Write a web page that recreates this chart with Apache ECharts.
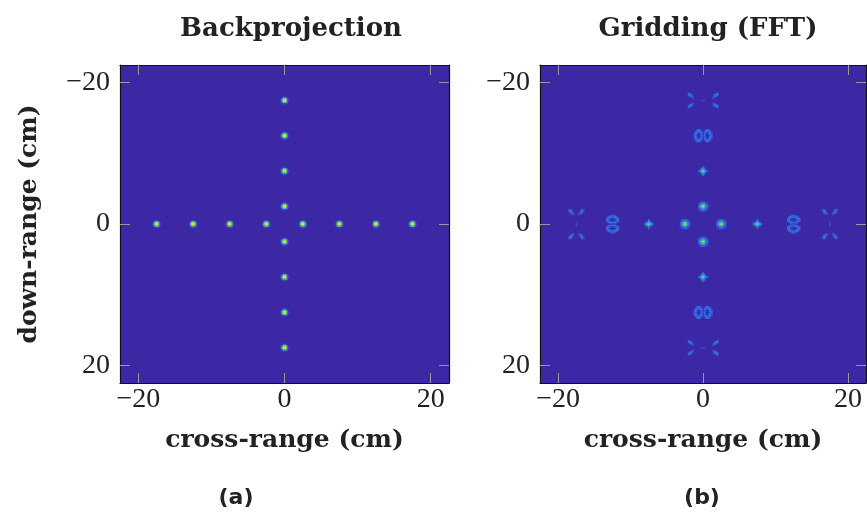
<!DOCTYPE html>
<html>
<head>
<meta charset="utf-8">
<script src="https://cdn.jsdelivr.net/npm/echarts@6/dist/echarts.min.js"></script>
<style>
  html, body { margin: 0; padding: 0; background: #fff; }
  #main { width: 867px; height: 521px; }
</style>
</head>
<body>
<div id="main"></div>
<script>
// target positions (cm), same on both axes
var targets = [-17.5, -12.5, -7.5, -2.5, 2.5, 7.5, 12.5, 17.5];
var tickValues = [-20, 0, 20];
var axisRange = [-22.5, 22.5];

// pixel patterns, digit = intensity / 9
var kernels = {
  bp: [
    '001100',
    '036630',
    '169961',
    '169961',
    '036630',
    '001100'
  ],
  ring: [
    '0122210',
    '1234321',
    '2356532',
    '2469642',
    '2356532',
    '1234321',
    '0122210'
  ],
  cross: [
    '0002000',
    '0014100',
    '0245420',
    '2457542',
    '0245420',
    '0014100',
    '0002000'
  ],
  split: [
    '001222100',
    '023323320',
    '232101232',
    '320000023',
    '232101232',
    '013232310',
    '000010000',
    '013232310',
    '232101232',
    '320000023',
    '232101232',
    '023323320',
    '001222100'
  ],
  far: [
    '23000000032',
    '13200000231',
    '02310001320',
    '00120002100',
    '00000000000',
    '00000000000',
    '00000000000',
    '00000000000',
    '00000000000',
    '00000100000',
    '00000100000',
    '00000100000',
    '00000000000',
    '00000000000',
    '00000000000',
    '00000000000',
    '00000000000',
    '00120002100',
    '02310001320',
    '13200000231',
    '23000000032'
  ]
};
// which pattern the gridding image shows at each |offset|
var fftOffsets = [2.5, 7.5, 12.5, 17.5];
var fftKernels = ['ring', 'cross', 'split', 'far'];

var CELL = 0.2;
var BG = '#3c28a5';

function addSpot(list, cx, cy, rows, transpose) {
  var h = rows.length, w = rows[0].length;
  for (var r = 0; r < h; r++) {
    for (var c = 0; c < w; c++) {
      var d = +rows[r].charAt(c);
      if (!d) continue;
      var dx = (c - (w - 1) / 2) * CELL;
      var dy = (r - (h - 1) / 2) * CELL;
      if (transpose) { var t = dx; dx = dy; dy = t; }
      list.push([cx + dx, cy + dy, d / 9]);
    }
  }
}

var bpCells = [], fftCells = [];
targets.forEach(function (t) {
  addSpot(bpCells, t, 0, kernels.bp, false);
  addSpot(bpCells, 0, t, kernels.bp, false);
  var k = kernels[fftKernels[fftOffsets.indexOf(Math.abs(t))]];
  addSpot(fftCells, t, 0, k, false);
  addSpot(fftCells, 0, t, k, true);
});

function renderCell(params, api) {
  var x = api.value(0), y = api.value(1);
  var p0 = api.coord([x - CELL / 2, y - CELL / 2]);
  var p1 = api.coord([x + CELL / 2, y + CELL / 2]);
  return {
    type: 'rect',
    shape: {
      x: Math.min(p0[0], p1[0]),
      y: Math.min(p0[1], p1[1]),
      width: Math.abs(p1[0] - p0[0]) + 0.3,
      height: Math.abs(p1[1] - p0[1]) + 0.3
    },
    style: { fill: api.visual('color') }
  };
}

function fmt(v) { return v < 0 ? '\u2212' + (-v) : '' + v; }

var titleFont = { fontFamily: 'DejaVu Serif', fontWeight: 'bold', fontSize: 26, color: '#222' };
var nameFont = { fontFamily: 'DejaVu Serif', fontWeight: 'bold', fontSize: 25, color: '#222' };
var tickFont = { fontFamily: 'Liberation Serif', fontSize: 28, color: '#222' };
var capFont = { fontFamily: 'DejaVu Sans', fontWeight: 'bold', fontSize: 22, color: '#222' };

function xAx(grid, pos, withLabel) {
  return {
    type: 'value', gridIndex: grid, position: pos,
    min: axisRange[0], max: axisRange[1], z: 10,
    name: withLabel ? 'cross-range (cm)' : '',
    nameLocation: 'middle', nameGap: 45,
    nameTextStyle: nameFont,
    axisLine: { show: true, onZero: false, lineStyle: { color: '#111', width: 1.2 } },
    axisTick: { show: true, inside: true, length: 10, customValues: tickValues, lineStyle: { color: '#999' } },
    axisLabel: { show: withLabel, customValues: tickValues, formatter: fmt, margin: 3, ...tickFont },
    splitLine: { show: false }
  };
}
function yAx(grid, pos, withLabel, name) {
  return {
    type: 'value', gridIndex: grid, position: pos, inverse: true,
    min: axisRange[0], max: axisRange[1], z: 10,
    name: name || '', nameLocation: 'middle', nameGap: 78, nameRotate: 90,
    nameTextStyle: nameFont,
    axisLine: { show: true, onZero: false, lineStyle: { color: '#111', width: 1.2 } },
    axisTick: { show: true, inside: true, length: 10, customValues: tickValues, lineStyle: { color: '#999' } },
    axisLabel: { show: withLabel, customValues: tickValues, formatter: fmt, margin: 10, ...tickFont },
    splitLine: { show: false }
  };
}

var chart = echarts.init(document.getElementById('main'));
var option = {
  animation: false,
  backgroundColor: '#fff',
  title: [
    { text: 'Backprojection', left: 286, top: 11, textAlign: 'center', textStyle: titleFont },
    { text: 'Gridding (FFT)', left: 703, top: 11, textAlign: 'center', textStyle: titleFont },
    { text: '(a)', left: 231, top: 482, textAlign: 'center', textStyle: capFont },
    { text: '(b)', left: 697, top: 482, textAlign: 'center', textStyle: capFont }
  ],
  grid: [
    { left: 120, top: 65, width: 329, height: 318, show: true, backgroundColor: BG, borderWidth: 0 },
    { left: 540, top: 65, width: 326, height: 318, show: true, backgroundColor: BG, borderWidth: 0 }
  ],
  xAxis: [xAx(0, 'bottom', true), xAx(0, 'top', false), xAx(1, 'bottom', true), xAx(1, 'top', false)],
  yAxis: [yAx(0, 'left', true, 'down-range (cm)'), yAx(0, 'right', false), yAx(1, 'left', true), yAx(1, 'right', false)],
  visualMap: {
    type: 'continuous', show: false, min: 0, max: 1, dimension: 2, seriesIndex: [0, 1],
    inRange: { color: [BG, '#3a4fdc', '#2a80e4', '#1fb4c8', '#5fcb78', '#d2d232', '#f7e41c'] }
  },
  series: [
    { type: 'custom', xAxisIndex: 0, yAxisIndex: 0, encode: { x: 0, y: 1 }, data: bpCells, renderItem: renderCell },
    { type: 'custom', xAxisIndex: 2, yAxisIndex: 2, encode: { x: 0, y: 1 }, data: fftCells, renderItem: renderCell }
  ]
};
chart.setOption(option);
</script>
</body>
</html>
